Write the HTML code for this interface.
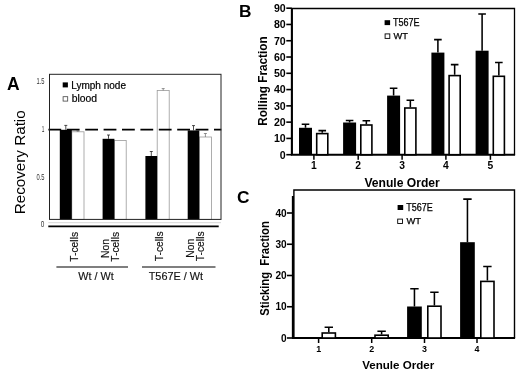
<!DOCTYPE html>
<html><head><meta charset="utf-8"><title>Figure</title>
<style>html,body{margin:0;padding:0;background:#fff;}svg{display:block;filter:blur(0.35px);}text{font-family:"Liberation Sans",sans-serif;}</style>
</head><body>
<svg width="520" height="371" viewBox="0 0 520 371">
<rect x="0" y="0" width="520" height="371" fill="#fff"/>
<g id="panelA">
<text x="7.0" y="89.6" font-size="17.5" font-weight="bold" fill="#000">A</text>
<text transform="translate(25,214.3) rotate(-90)" font-size="15" fill="#000" textLength="104" lengthAdjust="spacingAndGlyphs">Recovery Ratio</text>
<text x="36.4" y="83.89999999999999" font-size="9.2" fill="#333" textLength="8" lengthAdjust="spacingAndGlyphs">1.5</text>
<text x="41.8" y="131.8" font-size="9.2" fill="#333" textLength="2.6" lengthAdjust="spacingAndGlyphs">1</text>
<text x="36.4" y="179.5" font-size="9.2" fill="#333" textLength="8" lengthAdjust="spacingAndGlyphs">0.5</text>
<text x="40.8" y="226.9" font-size="9.2" fill="#333" textLength="3.6" lengthAdjust="spacingAndGlyphs">0</text>
<line x1="48.3" y1="222.7" x2="221" y2="222.7" stroke="#ccc" stroke-width="0.8"/>
<rect x="71.8" y="131.8" width="12.200000000000003" height="87.6" fill="#fff" stroke="#999" stroke-width="0.8"/>
<path d="M77.9 131.8V130.9M76.4 130.9H79.4" stroke="#666" stroke-width="0.7" fill="none"/>
<rect x="114.4" y="140.4" width="11.799999999999997" height="79.0" fill="#fff" stroke="#999" stroke-width="0.8"/>
<rect x="157.2" y="90.4" width="12.0" height="129.0" fill="#fff" stroke="#999" stroke-width="0.8"/>
<path d="M163.2 90.4V88.6M161.7 88.6H164.7" stroke="#666" stroke-width="0.7" fill="none"/>
<rect x="199.3" y="137" width="12.199999999999989" height="82.4" fill="#fff" stroke="#999" stroke-width="0.8"/>
<path d="M205.4 137V133.5M203.9 133.5H206.9" stroke="#666" stroke-width="0.7" fill="none"/>
<rect x="59.8" y="129.8" width="12.0" height="89.6" fill="#000"/>
<path d="M65.8 129.8V125.4M64.3 125.4H67.3" stroke="#222" stroke-width="0.8" fill="none"/>
<rect x="102.6" y="138.8" width="11.800000000000011" height="80.6" fill="#000"/>
<path d="M108.5 138.8V135.0M107.0 135.0H110.0" stroke="#222" stroke-width="0.8" fill="none"/>
<rect x="145.4" y="156" width="11.799999999999983" height="63.400000000000006" fill="#000"/>
<path d="M151.3 156V151.5M149.8 151.5H152.8" stroke="#222" stroke-width="0.8" fill="none"/>
<rect x="187.7" y="130.4" width="11.600000000000023" height="89.0" fill="#000"/>
<path d="M193.5 130.4V125.6M192.0 125.6H195.0" stroke="#222" stroke-width="0.8" fill="none"/>
<line x1="48.4" y1="129.7" x2="221.3" y2="129.7" stroke="#000" stroke-width="1.8" stroke-dasharray="12.8 5.6"/>
<rect x="49.5" y="74.3" width="171.5" height="145.10000000000002" fill="none" stroke="#222" stroke-width="1"/>
<line x1="48.3" y1="226.4" x2="218.7" y2="226.4" stroke="#000" stroke-width="1.7"/>
<rect x="62.7" y="82.4" width="5.2" height="5" fill="#000"/>
<text x="71.2" y="88.9" font-size="10" fill="#000" stroke="#000" stroke-width="0.2" textLength="54.8" lengthAdjust="spacingAndGlyphs">Lymph node</text>
<rect x="63.1" y="96.7" width="4.6" height="4.4" fill="#fff" stroke="#444" stroke-width="0.8"/>
<text x="71.7" y="102.3" font-size="10" fill="#000" stroke="#000" stroke-width="0.2" textLength="25.3" lengthAdjust="spacingAndGlyphs">blood</text>
<text transform="translate(77.5,246.8) rotate(-90)" font-size="10.3" text-anchor="middle" fill="#111" stroke="#111" stroke-width="0.15">T-cells</text>
<text transform="translate(109.3,248.6) rotate(-90)" font-size="10.3" text-anchor="middle" fill="#111" stroke="#111" stroke-width="0.15">Non</text>
<text transform="translate(118.5,246.8) rotate(-90)" font-size="10.3" text-anchor="middle" fill="#111" stroke="#111" stroke-width="0.15">T-cells</text>
<text transform="translate(162.6,246.3) rotate(-90)" font-size="10.3" text-anchor="middle" fill="#111" stroke="#111" stroke-width="0.15">T-cells</text>
<text transform="translate(194.3,248.2) rotate(-90)" font-size="10.3" text-anchor="middle" fill="#111" stroke="#111" stroke-width="0.15">Non</text>
<text transform="translate(204.2,246.3) rotate(-90)" font-size="10.3" text-anchor="middle" fill="#111" stroke="#111" stroke-width="0.15">T-cells</text>
<line x1="56.4" y1="267" x2="128" y2="267" stroke="#555" stroke-width="1.3"/>
<line x1="142" y1="267" x2="215.5" y2="267" stroke="#555" stroke-width="1.3"/>
<text x="78.3" y="280.2" font-size="10.8" fill="#111" stroke="#111" stroke-width="0.15" textLength="35.4" lengthAdjust="spacingAndGlyphs">Wt / Wt</text>
<text x="148.7" y="280.4" font-size="10.8" fill="#111" stroke="#111" stroke-width="0.15" textLength="54.4" lengthAdjust="spacingAndGlyphs">T567E / Wt</text>
</g>
<g id="panelB">
<text x="238.9" y="16.9" font-size="17.3" font-weight="bold" fill="#000">B</text>
<text transform="translate(266.8,125.8) rotate(-90)" font-size="13.6" font-weight="bold" fill="#000" textLength="89.4" lengthAdjust="spacingAndGlyphs">Rolling Fraction</text>
<path d="M291.9 8.5H514.5V154.7" fill="none" stroke="#000" stroke-width="1.3"/>
<path d="M291.9 8V155.7M290.9 154.7H515.1" fill="none" stroke="#000" stroke-width="2.1"/>
<line x1="286.3" y1="154.70" x2="291.9" y2="154.70" stroke="#000" stroke-width="1.6"/>
<text transform="translate(285.7,158.50)" font-size="10.6" font-weight="bold" text-anchor="end" fill="#000">0</text>
<line x1="286.3" y1="138.42" x2="291.9" y2="138.42" stroke="#000" stroke-width="1.6"/>
<text transform="translate(285.7,142.22)" font-size="10.6" font-weight="bold" text-anchor="end" fill="#000">10</text>
<line x1="286.3" y1="122.14" x2="291.9" y2="122.14" stroke="#000" stroke-width="1.6"/>
<text transform="translate(285.7,125.94)" font-size="10.6" font-weight="bold" text-anchor="end" fill="#000">20</text>
<line x1="286.3" y1="105.86" x2="291.9" y2="105.86" stroke="#000" stroke-width="1.6"/>
<text transform="translate(285.7,109.66)" font-size="10.6" font-weight="bold" text-anchor="end" fill="#000">30</text>
<line x1="286.3" y1="89.58" x2="291.9" y2="89.58" stroke="#000" stroke-width="1.6"/>
<text transform="translate(285.7,93.38)" font-size="10.6" font-weight="bold" text-anchor="end" fill="#000">40</text>
<line x1="286.3" y1="73.30" x2="291.9" y2="73.30" stroke="#000" stroke-width="1.6"/>
<text transform="translate(285.7,77.10)" font-size="10.6" font-weight="bold" text-anchor="end" fill="#000">50</text>
<line x1="286.3" y1="57.02" x2="291.9" y2="57.02" stroke="#000" stroke-width="1.6"/>
<text transform="translate(285.7,60.82)" font-size="10.6" font-weight="bold" text-anchor="end" fill="#000">60</text>
<line x1="286.3" y1="40.74" x2="291.9" y2="40.74" stroke="#000" stroke-width="1.6"/>
<text transform="translate(285.7,44.54)" font-size="10.6" font-weight="bold" text-anchor="end" fill="#000">70</text>
<line x1="286.3" y1="24.46" x2="291.9" y2="24.46" stroke="#000" stroke-width="1.6"/>
<text transform="translate(285.7,28.26)" font-size="10.6" font-weight="bold" text-anchor="end" fill="#000">80</text>
<line x1="286.3" y1="8.18" x2="291.9" y2="8.18" stroke="#000" stroke-width="1.6"/>
<text transform="translate(285.7,11.98)" font-size="10.6" font-weight="bold" text-anchor="end" fill="#000">90</text>
<rect x="299.0" y="127.80" width="13.0" height="26.90" fill="#000"/>
<path d="M305.5 127.80V124.20M301.7 124.20H309.3" stroke="#000" stroke-width="1.55" fill="none"/>
<rect x="316.7" y="133.60" width="11.1" height="21.10" fill="#fff" stroke="#000" stroke-width="1.6"/>
<path d="M322.25 132.80V130.60M318.45 130.60H326.05" stroke="#000" stroke-width="1.55" fill="none"/>
<rect x="343.1" y="122.50" width="13.0" height="32.20" fill="#000"/>
<path d="M349.6 122.50V120.40M345.8 120.40H353.40000000000003" stroke="#000" stroke-width="1.55" fill="none"/>
<rect x="360.8" y="125.00" width="11.1" height="29.70" fill="#fff" stroke="#000" stroke-width="1.6"/>
<path d="M366.35 124.20V120.80M362.55 120.80H370.15000000000003" stroke="#000" stroke-width="1.55" fill="none"/>
<rect x="387.1" y="95.60" width="13.0" height="59.10" fill="#000"/>
<path d="M393.6 95.60V88.20M389.8 88.20H397.40000000000003" stroke="#000" stroke-width="1.55" fill="none"/>
<rect x="404.8" y="108.00" width="11.1" height="46.70" fill="#fff" stroke="#000" stroke-width="1.6"/>
<path d="M410.35 107.20V100.30M406.55 100.30H414.15000000000003" stroke="#000" stroke-width="1.55" fill="none"/>
<rect x="431.4" y="52.60" width="13.0" height="102.10" fill="#000"/>
<path d="M437.9 52.60V39.60M434.09999999999997 39.60H441.7" stroke="#000" stroke-width="1.55" fill="none"/>
<rect x="449.09999999999997" y="75.60" width="11.1" height="79.10" fill="#fff" stroke="#000" stroke-width="1.6"/>
<path d="M454.65 74.80V64.60M450.84999999999997 64.60H458.45" stroke="#000" stroke-width="1.55" fill="none"/>
<rect x="475.6" y="50.70" width="13.0" height="104.00" fill="#000"/>
<path d="M482.1 50.70V13.90M478.3 13.90H485.90000000000003" stroke="#000" stroke-width="1.55" fill="none"/>
<rect x="493.3" y="76.30" width="11.1" height="78.40" fill="#fff" stroke="#000" stroke-width="1.6"/>
<path d="M498.85 75.50V62.40M495.05 62.40H502.65000000000003" stroke="#000" stroke-width="1.55" fill="none"/>
<line x1="313.9" y1="154.7" x2="313.9" y2="159.8" stroke="#000" stroke-width="1.5"/>
<text transform="translate(313.9,169.3)" font-size="10.3" font-weight="bold" text-anchor="middle" fill="#000">1</text>
<line x1="358.2" y1="154.7" x2="358.2" y2="159.8" stroke="#000" stroke-width="1.5"/>
<text transform="translate(358.2,169.3)" font-size="10.3" font-weight="bold" text-anchor="middle" fill="#000">2</text>
<line x1="402.1" y1="154.7" x2="402.1" y2="159.8" stroke="#000" stroke-width="1.5"/>
<text transform="translate(402.1,169.3)" font-size="10.3" font-weight="bold" text-anchor="middle" fill="#000">3</text>
<line x1="445.9" y1="154.7" x2="445.9" y2="159.8" stroke="#000" stroke-width="1.5"/>
<text transform="translate(445.9,169.3)" font-size="10.3" font-weight="bold" text-anchor="middle" fill="#000">4</text>
<line x1="490.4" y1="154.7" x2="490.4" y2="159.8" stroke="#000" stroke-width="1.5"/>
<text transform="translate(490.4,169.3)" font-size="10.3" font-weight="bold" text-anchor="middle" fill="#000">5</text>
<text x="364.4" y="187" font-size="12.3" font-weight="bold" fill="#000" textLength="75.4" lengthAdjust="spacingAndGlyphs">Venule Order</text>
<rect x="384.6" y="20.2" width="5.5" height="4.9" fill="#000"/>
<text x="392.9" y="25.6" font-size="10.2" fill="#000" stroke="#000" stroke-width="0.25" textLength="26.6" lengthAdjust="spacingAndGlyphs">T567E</text>
<rect x="385.1" y="33.9" width="4.7" height="4.5" fill="#fff" stroke="#000" stroke-width="0.9"/>
<text x="393.6" y="38.9" font-size="9.8" fill="#000" stroke="#000" stroke-width="0.25" textLength="14.4" lengthAdjust="spacingAndGlyphs">WT</text>
</g>
<g id="panelC">
<text x="236.9" y="202.9" font-size="17.3" font-weight="bold" fill="#000">C</text>
<text transform="translate(268.6,315.7) rotate(-90)" font-size="13.6" font-weight="bold" fill="#000" textLength="94.5" lengthAdjust="spacingAndGlyphs" xml:space="preserve">Sticking  Fraction</text>
<path d="M293.9 338.0V190H514.5V338.0" fill="none" stroke="#000" stroke-width="1.4"/>
<path d="M292.9 196V339.0M291.9 338.0H515.1" fill="none" stroke="#000" stroke-width="2.1"/>
<line x1="287.0" y1="338.00" x2="292.9" y2="338.00" stroke="#000" stroke-width="1.6"/>
<text transform="translate(286.7,341.60)" font-size="10.1" font-weight="bold" text-anchor="end" fill="#000">0</text>
<line x1="287.0" y1="306.75" x2="292.9" y2="306.75" stroke="#000" stroke-width="1.6"/>
<text transform="translate(286.7,310.35)" font-size="10.1" font-weight="bold" text-anchor="end" fill="#000">10</text>
<line x1="287.0" y1="275.50" x2="292.9" y2="275.50" stroke="#000" stroke-width="1.6"/>
<text transform="translate(286.7,279.10)" font-size="10.1" font-weight="bold" text-anchor="end" fill="#000">20</text>
<line x1="287.0" y1="244.25" x2="292.9" y2="244.25" stroke="#000" stroke-width="1.6"/>
<text transform="translate(286.7,247.85)" font-size="10.1" font-weight="bold" text-anchor="end" fill="#000">30</text>
<line x1="287.0" y1="213.00" x2="292.9" y2="213.00" stroke="#000" stroke-width="1.6"/>
<text transform="translate(286.7,216.60)" font-size="10.1" font-weight="bold" text-anchor="end" fill="#000">40</text>
<rect x="322.2" y="333.00" width="13.200000000000001" height="5.00" fill="#fff" stroke="#000" stroke-width="1.6"/>
<path d="M328.79999999999995 332.20V327.30M324.59999999999997 327.30H332.99999999999994" stroke="#000" stroke-width="1.55" fill="none"/>
<rect x="375.0" y="335.20" width="13.200000000000001" height="2.80" fill="#fff" stroke="#000" stroke-width="1.6"/>
<path d="M381.59999999999997 334.40V331.30M377.4 331.30H385.79999999999995" stroke="#000" stroke-width="1.55" fill="none"/>
<rect x="407.1" y="306.50" width="14.7" height="31.50" fill="#000"/>
<path d="M414.45000000000005 306.50V288.80M410.25000000000006 288.80H418.65000000000003" stroke="#000" stroke-width="1.55" fill="none"/>
<rect x="427.8" y="306.20" width="13.200000000000001" height="31.80" fill="#fff" stroke="#000" stroke-width="1.6"/>
<path d="M434.4 305.40V292.20M430.2 292.20H438.59999999999997" stroke="#000" stroke-width="1.55" fill="none"/>
<rect x="460.1" y="242.20" width="14.7" height="95.80" fill="#000"/>
<path d="M467.45000000000005 242.20V199.10M463.25000000000006 199.10H471.65000000000003" stroke="#000" stroke-width="1.55" fill="none"/>
<rect x="480.8" y="281.40" width="13.200000000000001" height="56.60" fill="#fff" stroke="#000" stroke-width="1.6"/>
<path d="M487.4 280.60V266.50M483.2 266.50H491.59999999999997" stroke="#000" stroke-width="1.55" fill="none"/>
<line x1="318.6" y1="338.0" x2="318.6" y2="343.0" stroke="#000" stroke-width="1.5"/>
<text transform="translate(318.6,352.0)" font-size="8.9" font-weight="bold" text-anchor="middle" fill="#000">1</text>
<line x1="371.7" y1="338.0" x2="371.7" y2="343.0" stroke="#000" stroke-width="1.5"/>
<text transform="translate(371.7,352.0)" font-size="8.9" font-weight="bold" text-anchor="middle" fill="#000">2</text>
<line x1="424.5" y1="338.0" x2="424.5" y2="343.0" stroke="#000" stroke-width="1.5"/>
<text transform="translate(424.5,352.0)" font-size="8.9" font-weight="bold" text-anchor="middle" fill="#000">3</text>
<line x1="477" y1="338.0" x2="477" y2="343.0" stroke="#000" stroke-width="1.5"/>
<text transform="translate(477,352.0)" font-size="8.9" font-weight="bold" text-anchor="middle" fill="#000">4</text>
<text x="362.2" y="368.7" font-size="11.4" font-weight="bold" fill="#000" textLength="72" lengthAdjust="spacingAndGlyphs">Venule Order</text>
<rect x="397.6" y="205" width="5.6" height="5" fill="#000"/>
<text x="406.2" y="210.6" font-size="10.2" fill="#000" stroke="#000" stroke-width="0.25" textLength="26.6" lengthAdjust="spacingAndGlyphs">T567E</text>
<rect x="397.7" y="219.1" width="4.8" height="4.4" fill="#fff" stroke="#000" stroke-width="0.9"/>
<text x="406.4" y="224" font-size="9.8" fill="#000" stroke="#000" stroke-width="0.25" textLength="14.6" lengthAdjust="spacingAndGlyphs">WT</text>
</g>
</svg></body></html>
